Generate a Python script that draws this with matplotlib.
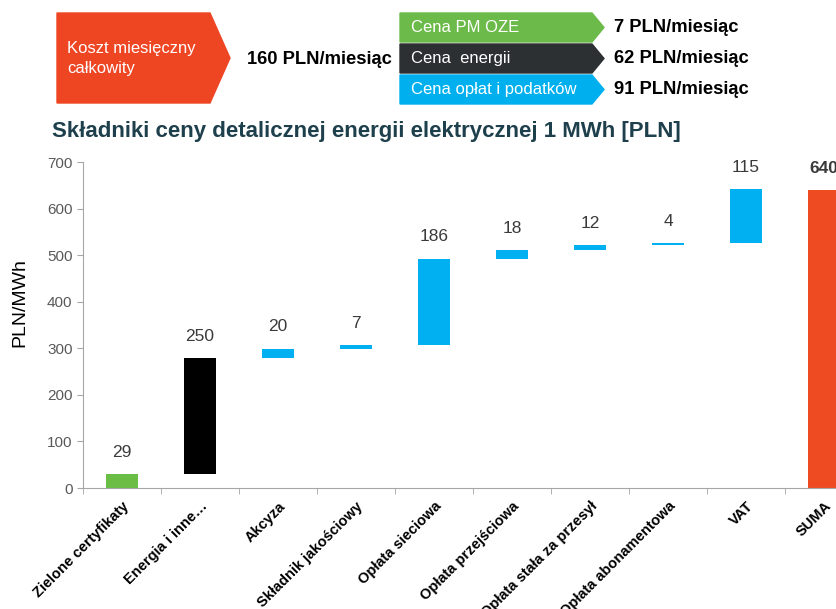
import matplotlib.pyplot as plt
import numpy as np
from matplotlib.patches import Polygon

plt.rcParams['font.family'] = ['Liberation Sans', 'DejaVu Sans']

categories = ['Zielone certyfikaty', 'Energia i inne…', 'Akcyza', 'Składnik jakościowy',
              'Opłata sieciowa', 'Opłata przejściowa', 'Opłata stała za przesył',
              'Opłata abonamentowa', 'VAT', 'SUMA']
values = [29, 250, 20, 7, 186, 18, 12, 4, 115, 640]
bar_colors = ['#6ABD45', '#000000', '#00B0F0', '#00B0F0', '#00B0F0', '#00B0F0',
              '#00B0F0', '#00B0F0', '#00B0F0', '#EE4B23']

header_total = '160 PLN/miesiąc'
header_labels = ['Cena PM OZE', 'Cena  energii', 'Cena opłat i podatków']
header_values = ['7 PLN/miesiąc', '62 PLN/miesiąc', '91 PLN/miesiąc']
header_colors = ['#6CBB4A', '#2D3033', '#00B0EE']

fig = plt.figure(figsize=(8.36, 6.09), dpi=100)

# waterfall: components stack on each other, last bar is the total from zero
bottoms = np.concatenate([[0], np.cumsum(values[:-2])])
bottoms = list(bottoms) + [0]
x = np.arange(len(categories))

ax = fig.add_axes([83 / 836, 121 / 609, 780 / 836, 326 / 609])
ax.bar(x, values, bottom=bottoms, width=0.41, color=bar_colors)
for i, v in enumerate(values):
    top = bottoms[i] + v
    ax.text(x[i], top + 47, str(v), ha='center', va='center', fontsize=12.5,
            color='#3A3A3A', fontweight='bold' if i == len(values) - 1 else 'normal')

ax.set_xlim(-0.5, len(categories) - 0.5)
ax.set_ylim(0, 700)
ax.set_yticks(range(0, 701, 100))
ax.set_xticks(x)
ax.set_xticklabels(categories, rotation=45, ha='right', rotation_mode='anchor',
                   fontsize=10.5, fontweight='bold')
ax.tick_params(axis='x', length=0, pad=8)
ax.set_xticks(np.arange(-0.5, len(categories), 1), minor=True)
ax.tick_params(axis='x', which='minor', length=4, color='#A6A6A6')
ax.tick_params(axis='y', length=4, color='#A6A6A6', labelcolor='#595959', labelsize=11)
for s in ['top', 'right']:
    ax.spines[s].set_visible(False)
for s in ['left', 'bottom']:
    ax.spines[s].set_color('#A6A6A6')
ax.set_ylabel('PLN/MWh', fontsize=14)
ax.yaxis.set_label_coords(-0.07, 0.57)

fig.text(52 / 836, 1 - 131 / 609, 'Składniki ceny detalicznej energii elektrycznej 1 MWh [PLN]',
         fontsize=16, fontweight='bold', color='#1E3F4C', va='center', ha='left')

# header with arrow shapes, drawn in pixel coordinates
hx = fig.add_axes([0, 0, 1, 1])
hx.set_xlim(0, 836)
hx.set_ylim(609, 0)
hx.axis('off')
hx.patch.set_alpha(0)
hx.add_patch(Polygon([(57, 13), (210, 13), (230, 58), (210, 103), (57, 103)],
                     closed=True, color='#EE4523'))
hx.text(67, 49, 'Koszt miesięczny', color='white', fontsize=12, va='center')
hx.text(67, 69, 'całkowity', color='white', fontsize=12, va='center')
hx.text(247, 60, header_total, fontsize=13.2, fontweight='bold', va='center')
for i, (lab, val, col) in enumerate(zip(header_labels, header_values, header_colors)):
    y0 = 13 + i * 31
    y1 = y0 + 29
    hx.add_patch(Polygon([(400, y0), (592, y0), (604, (y0 + y1) / 2), (592, y1), (400, y1)],
                         closed=True, color=col))
    hx.text(411, (y0 + y1) / 2, lab, color='white', fontsize=12, va='center')
    hx.text(614, (y0 + y1) / 2, val, fontsize=13.2, fontweight='bold', va='center')

fig.savefig('out.png', dpi=100)
